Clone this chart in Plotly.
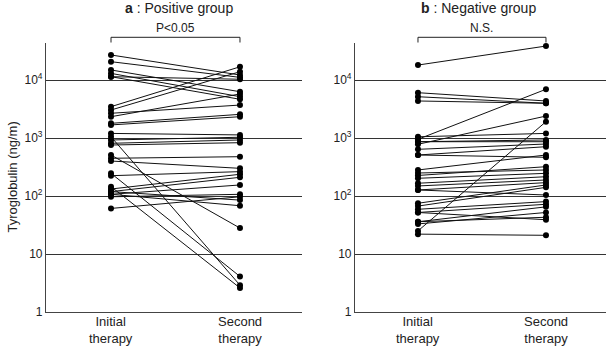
import plotly.graph_objects as go

# Panel a: Positive group (initial therapy -> second therapy), Tg ng/ml
pos_initial = [27000, 20700, 14900, 13000, 11400, 3470, 3040, 2670, 2330, 1790,
               1680, 11400, 1200, 1050, 925, 810, 757, 509, 447, 401,
               246, 224, 145, 132, 119, 107, 97, 61, 119, 107]
pos_second = [12200, 11100, 6280, 5160, 4650, 16900, 13900, 3700, 5740, 2560,
              2330, 10300, 1130, 2.9, 1030, 925, 830, 28, 476, 300,
              4.1, 263, 2.6, 237, 210, 155, 107, 97, 85, 68]

# Panel b: Negative group
neg_initial = [18100, 6040, 5150, 4350, 1050, 950, 863, 863, 779, 638,
               509, 509, 281, 249, 226, 202, 166, 149, 127, 127,
               75, 67, 59, 52, 36, 33, 25, 22, 36, 52]
neg_second = [38500, 4350, 3970, 3970, 1200, 6920, 925, 863, 2390, 788,
              708, 465, 509, 281, 320, 246, 215, 189, 170, 104,
              155, 141, 80, 72, 65, 52, 1910, 21, 43, 39]

categories = ["Initial<br>therapy", "Second<br>therapy"]
tick_vals = [1, 10, 100, 1000, 10000]
tick_text = ["1", "10", "10<sup>2</sup>", "10<sup>3</sup>", "10<sup>4</sup>"]

panel_titles = ["<b>a</b> : Positive group", "<b>b</b> : Negative group"]
sig_labels = ["P<0.05", "N.S."]

W, H = 609, 346
TOP, BOT = 43, 312

def pairs(a, b):
    xs, ys = [], []
    for u, v in zip(a, b):
        xs += [0, 1, None]
        ys += [u, v, None]
    return xs, ys

fig = go.Figure()
for i, (ini, sec) in enumerate([(pos_initial, pos_second), (neg_initial, neg_second)]):
    xs, ys = pairs(ini, sec)
    ax = "" if i == 0 else "2"
    fig.add_trace(go.Scatter(
        x=xs, y=ys, mode="lines+markers",
        line=dict(color="#111", width=1),
        marker=dict(color="#000", size=6),
        xaxis="x" + ax, yaxis="y" + ax, showlegend=False, hoverinfo="skip"))

text_font = dict(family="Liberation Sans, Arial, sans-serif", color="#222")

axis_common_x = dict(
    tickvals=[0, 1], showticklabels=False, showgrid=False, zeroline=False,
    showline=True, linecolor="#444", linewidth=1.2, ticks="",
    fixedrange=True, automargin=False)
axis_common_y = dict(
    type="log", range=[0, 4.638], tickvals=tick_vals, ticktext=tick_text,
    showgrid=True, gridcolor="#333", gridwidth=1, zeroline=False,
    showline=True, linecolor="#444", linewidth=1.2, ticks="",
    tickfont=dict(size=12, **text_font), fixedrange=True, automargin=False)

fig.update_layout(
    width=W, height=H,
    margin=dict(l=0, r=0, t=TOP, b=H - BOT, autoexpand=False),
    paper_bgcolor="white", plot_bgcolor="white",
    xaxis=dict(domain=[46 / W, 302 / W], range=[-0.504, 1.481], anchor="y", **axis_common_x),
    yaxis=dict(anchor="x", **axis_common_y),
    xaxis2=dict(domain=[355 / W, 606 / W], range=[-0.492, 1.469], anchor="y2", **axis_common_x),
    yaxis2=dict(anchor="x2", **axis_common_y),
    font=text_font,
)

ph = BOT - TOP
def py(pix):
    return (BOT - pix) / ph

annotations = [
    dict(text="Tyroglobulin (ng/m)", x=12 / W, y=0.5, xref="paper", yref="paper",
         xanchor="center", yanchor="middle",
         textangle=-90, showarrow=False, font=dict(size=13, **text_font)),
]
shapes = []
title_x = [0.53, 0.47]
for i in range(2):
    ax = "x" if i == 0 else "x2"
    annotations.append(dict(text=panel_titles[i], x=title_x[i], xref=ax, y=py(8), yref="paper",
                            xanchor="center", yanchor="middle",
                            showarrow=False, font=dict(size=14, **text_font)))
    annotations.append(dict(text=sig_labels[i], x=0.5, xref=ax, y=py(28), yref="paper",
                            xanchor="center", yanchor="middle",
                            showarrow=False, font=dict(size=12, **text_font)))
    shapes.append(dict(type="path", xref=ax, yref="paper",
                       path=f"M 0,{py(42.5)} L 0,{py(37.3)} L 1,{py(37.3)} L 1,{py(42.5)}",
                       line=dict(color="#222", width=1)))
    for k, cat in enumerate(categories):
        annotations.append(dict(text=cat, x=k, xref=ax, y=py(330), yref="paper",
                                xanchor="center", yanchor="middle",
                                showarrow=False, font=dict(size=13, **text_font)))

fig.update_layout(annotations=annotations, shapes=shapes)
fig.write_html("out.html", config={"displayModeBar": False},
               post_script="document.body.style.margin='0';document.body.style.overflow='hidden';")
